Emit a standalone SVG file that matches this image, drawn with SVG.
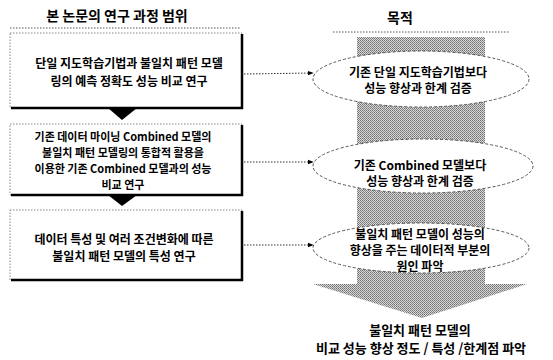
<svg xmlns="http://www.w3.org/2000/svg" width="553" height="360" viewBox="0 0 553 360">
<defs>
<pattern id="dots" width="2" height="2" patternUnits="userSpaceOnUse">
<rect width="2" height="2" fill="#d8d8d8"/>
<rect width="1" height="1" fill="#707070"/>
<rect x="1" y="1" width="1" height="1" fill="#8a8a8a"/>
</pattern>
<marker id="ah" viewBox="0 0 8 8" refX="7" refY="4" markerWidth="6" markerHeight="6" orient="auto">
<path d="M0,1 L8,4 L0,7 Z" fill="#000"/>
</marker>
</defs>
<style>
text{font-family:"Noto Sans CJK KR","Noto Sans CJK SC",sans-serif;fill:#000;text-anchor:middle;dominant-baseline:central}
.bt{font-size:12px;font-weight:bold}
.bt2{font-size:11px;font-weight:bold}
.et{font-size:12px;font-weight:bold}
.hd{font-size:14px;font-weight:bold}
.sep{stroke:#555;stroke-width:1;stroke-dasharray:1.5 1.5;fill:none}
.box{fill:#fff;stroke:#888;stroke-width:1;stroke-dasharray:1.5 1.5}
.shadow{stroke:#000;stroke-width:2.5;fill:none}
.ell{fill:#fff;stroke:#555;stroke-width:1;stroke-dasharray:3 2}
.conn{stroke:#333;stroke-width:1;stroke-dasharray:1.5 1.5;fill:none}
.tri{fill:#000}
</style>
<rect width="553" height="360" fill="#fff"/>

<g id="header-left">
<text class="hd" x="117" y="15">본 논문의 연구 과정 범위</text>
<line class="sep" x1="10" y1="28" x2="240" y2="28"/>
</g>
<g id="header-right">
<text class="hd" x="400" y="17">목적</text>
<line class="sep" x1="333" y1="32" x2="510" y2="32"/>
</g>

<g id="big-arrow">
<polygon points="357,37 485,37 485,284 527,284 422,318 313,284 357,284" fill="url(#dots)"/>
</g>

<g id="box1">
<rect class="box" x="10" y="33" width="232" height="75"/>
<polyline class="shadow" points="242,34 242,108 11,108"/>
<text class="bt" x="129" y="62">단일 지도학습기법과 불일치 패턴 모델</text>
<text class="bt" x="129" y="80">링의 예측 정확도 성능 비교 연구</text>
</g>
<polygon class="tri" points="108,108 137,108 122,120"/>

<g id="box2">
<rect class="box" x="10" y="124" width="232" height="71"/>
<polyline class="shadow" points="242,125 242,195 11,195"/>
<text class="bt2" x="123" y="136">기존 데이터 마이닝 Combined 모델의</text>
<text class="bt2" x="123" y="152">불일치 패턴 모델링의 통합적 활용을</text>
<text class="bt2" x="123" y="168">이용한 기존 Combined 모델과의 성능</text>
<text class="bt2" x="123" y="184">비교 연구</text>
</g>
<polygon class="tri" points="108,195 137,195 122,206"/>

<g id="box3">
<rect class="box" x="10" y="210" width="232" height="70"/>
<polyline class="shadow" points="242,211 242,280 11,280"/>
<text class="bt" x="124" y="238">데이터 특성 및 여러 조건변화에 따른</text>
<text class="bt" x="124" y="255">불일치 패턴 모델의 특성 연구</text>
</g>

<g id="ellipse1">
<ellipse class="ell" cx="421" cy="79" rx="108" ry="28"/>
<text class="et" x="418" y="71">기존 단일 지도학습기법보다</text>
<text class="et" x="418" y="87">성능 향상과 한계 검증</text>
</g>
<g id="ellipse2">
<ellipse class="ell" cx="423" cy="166" rx="110" ry="27"/>
<text class="et" x="420" y="164">기존 Combined 모델보다</text>
<text class="et" x="420" y="180">성능 향상과 한계 검증</text>
</g>
<g id="ellipse3">
<ellipse class="ell" cx="421" cy="248" rx="108" ry="25"/>
<text class="et" x="420" y="233">불일치 패턴 모델이 성능의</text>
<text class="et" x="420" y="249">향상을 주는 데이터적 부분의</text>
<text class="et" x="420" y="265">원인 파악</text>
</g>

<g id="connectors">
<line class="conn" x1="244" y1="74" x2="313" y2="73" marker-end="url(#ah)"/>
<line class="conn" x1="244" y1="162" x2="313" y2="162" marker-end="url(#ah)"/>
<line class="conn" x1="244" y1="245" x2="313" y2="245" marker-end="url(#ah)"/>
</g>

<g id="result">
<text class="hd" x="420" y="329" style="font-size:13px">불일치 패턴 모델의</text>
<text class="hd" x="421" y="347" style="font-size:13px">비교 성능 향상 정도 / 특성 /한계점 파악</text>
</g>
</svg>
